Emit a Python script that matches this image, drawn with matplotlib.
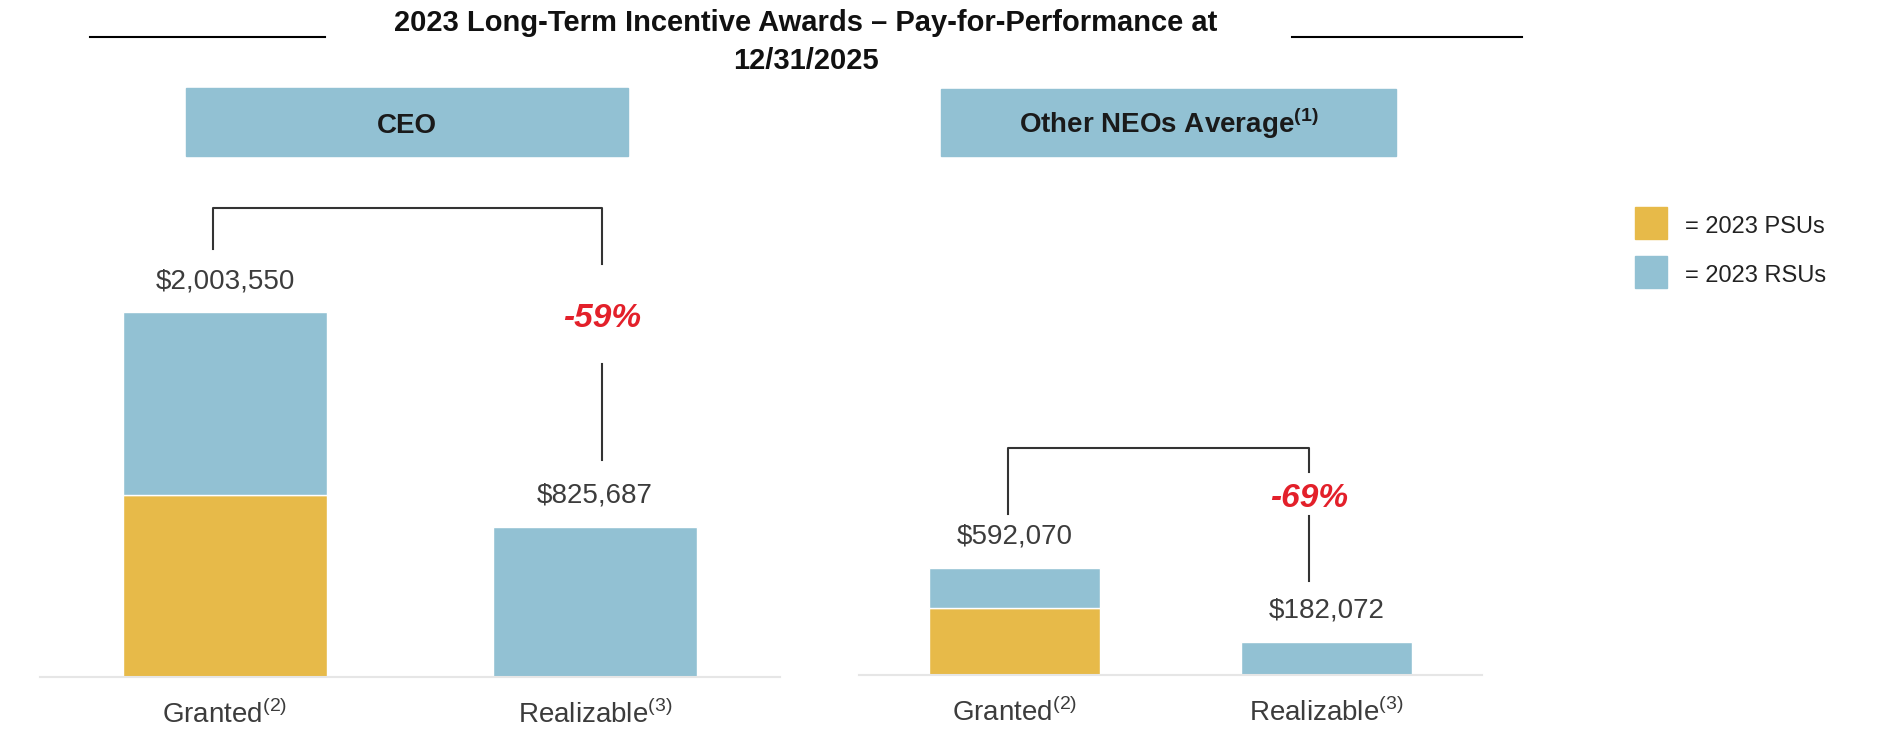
import matplotlib.pyplot as plt
from matplotlib.patches import Rectangle
from matplotlib.lines import Line2D

plt.rcParams['font.family'] = ['Liberation Sans', 'DejaVu Sans']
plt.rcParams['mathtext.fontset'] = 'custom'
plt.rcParams['mathtext.rm'] = 'Liberation Sans'
plt.rcParams['mathtext.bf'] = 'Liberation Sans:bold'

# data
title = '2023 Long-Term Incentive Awards \u2013 Pay-for-Performance at\n12/31/2025'
panels = ['CEO', 'Other NEOs Average']
panel_notes = ['', '(1)']
categories = ['Granted', 'Realizable']
category_notes = ['(2)', '(3)']
psu_values = [[1001775, 0], [370000, 0]]
rsu_values = [[1001775, 825687], [222070, 182072]]
totals = [[2003550, 825687], [592070, 182072]]
changes = ['-59%', '-69%']
legend_labels = ['= 2023 PSUs', '= 2023 RSUs']

PSU_COLOR = '#E7BA49'
RSU_COLOR = '#92C1D3'
RED = '#E3202A'
TEXT = '#3c3c3c'

W, H = 1901, 731
fig = plt.figure(figsize=(W / 100, H / 100), dpi=100)


def fx(px):
    return px / W


def fy(px):
    return 1 - px / H


# layout in pixels: axes rect (left, top, right, bottom), header box, bracket
ax_rects = [(40, 140, 780, 677), (859, 140, 1482, 675)]
box_rects = [(186, 88, 628, 156), (941, 89, 1396, 156)]
brackets = [
    dict(xl=-0.032, xr=1.019, leg=63, top=104, rleg=56, gap=100, low=67),
    dict(xl=-0.021, xr=0.945, leg=54, top=120, rleg=24, gap=44, low=61),
]
ytop = 2.95e6

for p in range(len(panels)):
    l, t, r, b = ax_rects[p]
    ax = fig.add_axes([fx(l), fy(b), fx(r - l), (b - t) / H])
    ax.bar(range(2), psu_values[p], 0.55, color=PSU_COLOR,
           edgecolor='white', linewidth=1)
    ax.bar(range(2), rsu_values[p], 0.55, bottom=psu_values[p],
           color=RSU_COLOR, edgecolor='white', linewidth=1)
    ax.set_xlim(-0.5, 1.5)
    ax.set_ylim(0, ytop)
    for s in ['top', 'right', 'left']:
        ax.spines[s].set_visible(False)
    ax.spines['bottom'].set_color('#e6e6e6')
    ax.spines['bottom'].set_linewidth(1.5)
    ax.set_xticks([])
    ax.set_yticks([])

    u = ytop / (b - t)  # data units per pixel

    # value labels and category labels
    for i, v in enumerate(totals[p]):
        ax.text(i, v + 24 * u, f'${v:,.0f}', ha='center', va='baseline',
                fontsize=20, color=TEXT)
        ax.annotate(categories[i] + '$^{' + category_notes[i] + '}$',
                    xy=(i, 0), xycoords=('data', 'axes fraction'),
                    xytext=(0, -46 * 0.72), textcoords='offset points',
                    ha='center', va='baseline', fontsize=20, color=TEXT)

    # bracket with percent change
    bk = brackets[p]
    g, rz = totals[p]
    y_top = g + bk['top'] * u
    y_leg = g + bk['leg'] * u
    y_r1 = y_top - bk['rleg'] * u
    y_r2 = y_r1 - bk['gap'] * u
    y_low = rz + bk['low'] * u
    kw = dict(color='#333333', linewidth=1.5, clip_on=False)
    ax.plot([bk['xl'], bk['xl'], bk['xr'], bk['xr']],
            [y_leg, y_top, y_top, y_r1], **kw)
    ax.plot([bk['xr'], bk['xr']], [y_r2, y_low], **kw)
    ax.text(bk['xr'], (y_r1 + y_r2) / 2 - 13 * u, changes[p], ha='center',
            va='baseline', fontsize=24, fontweight='bold', fontstyle='italic',
            color=RED)

    # header box
    bl, bt, br, bb = box_rects[p]
    fig.patches.append(Rectangle((fx(bl), fy(bb)), fx(br - bl), (bb - bt) / H,
                                 transform=fig.transFigure, color=RSU_COLOR))
    label = panels[p]
    if panel_notes[p]:
        label += '$^{\\mathbf{' + panel_notes[p] + '}}$'
    fig.text(fx((bl + br) / 2), fy(133), label, ha='center',
             va='baseline', fontsize=20, fontweight='bold', color='#1a1a1a')

# title and rules
fig.text(fx(806), fy(9), title, ha='center', va='top', fontsize=21,
         fontweight='bold', color='#111111', linespacing=1.45)
for x0, x1 in [(90, 325), (1292, 1522)]:
    fig.add_artist(Line2D([fx(x0), fx(x1)], [fy(37), fy(37)],
                          color='black', linewidth=1.5))

# legend
for k, (lab, c) in enumerate(zip(legend_labels, [PSU_COLOR, RSU_COLOR])):
    top = 207 + 49 * k
    fig.patches.append(Rectangle((fx(1635), fy(top + 32)), fx(32), 32 / H,
                                 transform=fig.transFigure, color=c))
    fig.text(fx(1685), fy(top + 26), lab, ha='left', va='baseline',
             fontsize=17, color='#222222')

fig.savefig('out.png', dpi=100)
